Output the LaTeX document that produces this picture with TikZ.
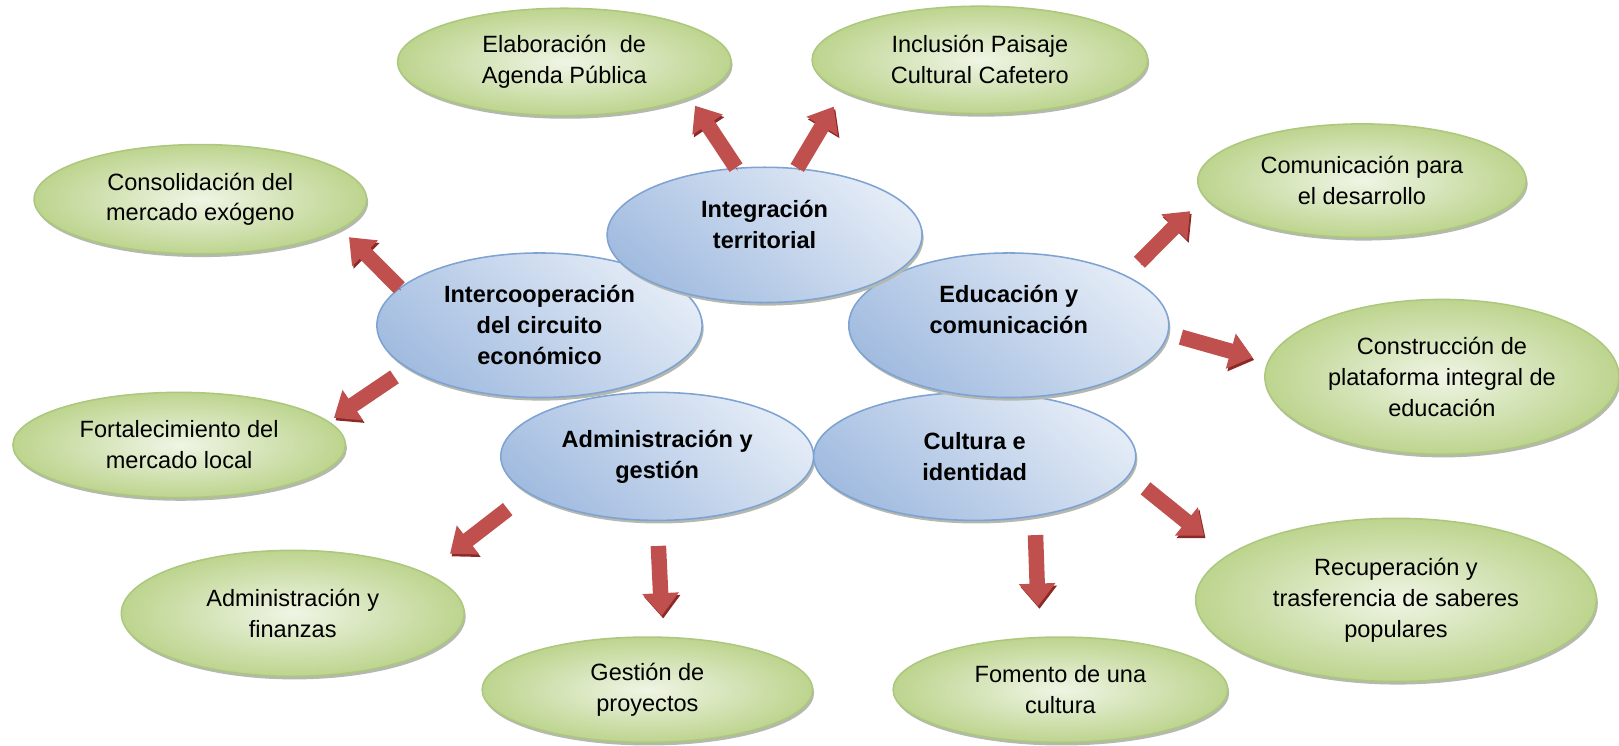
\documentclass[tikz,border=0pt]{standalone}
\usepackage{fontspec}
\setmainfont{Liberation Sans}
\usetikzlibrary{shapes.geometric}
\usetikzlibrary{arrows.meta}
\usetikzlibrary{shadows}
\definecolor{greenline}{HTML}{ACC87E}
\definecolor{greenin}{HTML}{EFF5E5}
\definecolor{greenout}{HTML}{BDD48E}
\definecolor{blueline}{HTML}{7EA3D3}
\definecolor{bluelight}{HTML}{E3EBF6}
\definecolor{bluedark}{HTML}{A2BCE0}
\definecolor{arrowred}{HTML}{C0504D}
\definecolor{arrowdark}{HTML}{8C2A28}
\definecolor{shadowgray}{HTML}{B4B8AE}

\begin{document}
\begin{tikzpicture}[x=1pt,y=-1pt,
    every node/.style={font=\fontsize{22.8}{30}\selectfont, align=center, inner sep=0pt},
    greenell/.style={ellipse, draw=greenline, line width=1.5pt, inner color=greenin, outer color=greenout,
        drop shadow={shadow xshift=1.5pt, shadow yshift=-3pt, fill=shadowgray, opacity=1}},
    blueell/.style={ellipse, draw=blueline, line width=1.5pt, top color=bluelight, bottom color=bluedark, shading angle=-40,
        drop shadow={shadow xshift=1.5pt, shadow yshift=-3pt, fill=shadowgray, opacity=1}, font=\fontsize{22.8}{30}\selectfont\bfseries},
    redarrow/.style={draw=arrowred, line width=15pt, -{Triangle[width=34pt,length=22pt]},
        preaction={draw=arrowdark, transform canvas={shift={(1.5pt,-2.5pt)}}}}]
    \path[use as bounding box] (0,0) rectangle (1568,722);

    \node[greenell, minimum width=323pt, minimum height=104pt] (elab) at (546.5,60) {Elaboración\ \ de\\Agenda Pública};
    \node[greenell, minimum width=325pt, minimum height=104pt] (incl) at (949,58) {Inclusión Paisaje\\Cultural Cafetero};
    \node[greenell, minimum width=322pt, minimum height=106pt] (cons) at (194,193) {Consolidación del\\mercado exógeno};
    \node[greenell, minimum width=318pt, minimum height=110pt] (comu) at (1319,175) {Comunicación para\\el desarrollo};
    \node[greenell, minimum width=343pt, minimum height=150pt] (plat) at (1396.5,365) {Construcción de\\plataforma integral de\\educación};
    \node[greenell, minimum width=322pt, minimum height=102pt] (fort) at (173.5,431) {Fortalecimiento del\\mercado local};
    \node[greenell, minimum width=332pt, minimum height=122pt] (admf) at (283.5,594) {Administración y\\finanzas};
    \node[greenell, minimum width=320pt, minimum height=102pt] (gest) at (627,668) {Gestión de\\proyectos};
    \node[greenell, minimum width=324pt, minimum height=102pt] (fome) at (1027,668) {Fomento de una\\cultura};
    \node[greenell, minimum width=388pt, minimum height=158pt] (recu) at (1352,581) {Recuperación y\\trasferencia de saberes\\populares};

    \node[blueell, minimum width=315pt, minimum height=140pt] (inter) at (522.5,315) {Intercooperación\\del circuito\\económico};
    \node[blueell, minimum width=303pt, minimum height=124pt] (admg) at (636.5,442) {Administración y\\gestión};
    \node[blueell, minimum width=312pt, minimum height=124pt] (cult) at (944,442) {Cultura e\\identidad};
    \node[blueell, minimum width=310pt, minimum height=140pt, text depth=30pt] (educ) at (977,315) {Educación y\\comunicación};
    \node[blueell, minimum width=305pt, minimum height=131pt, text depth=20pt] (integ) at (740.5,227.5) {Integración\\territorial};

    \draw[redarrow, shorten >=9pt] (integ.113) -- (elab.-16.5);
    \draw[redarrow, shorten >=17pt] (integ.64) -- (incl.193);
    \draw[redarrow, shorten >=11pt] (inter.165) -- (cons.-12);
    \draw[redarrow, shorten <=15pt, shorten >=6pt] (inter.198.5) -- (fort.9.5);
    \draw[redarrow, shorten <=18pt, shorten >=19pt] (educ.23.4) -- (comu.186.4);
    \draw[redarrow, shorten <=12.5pt, shorten >=15pt] (educ.-3.3) -- (plat.175.5);
    \draw[redarrow, shorten <=25pt, shorten >=30pt] (admg.196.9) -- (admf.17.4);
    \draw[redarrow, shorten <=24pt, shorten >=20pt] (admg.270) -- (gest.74);
    \draw[redarrow, shorten <=18pt, shorten >=29.5pt] (cult.-45.2) -- (fome.112.2);
    \draw[redarrow, shorten <=20pt, shorten >=29.5pt] (cult.-7.9) -- (recu.165.9);
\end{tikzpicture}
\end{document}
